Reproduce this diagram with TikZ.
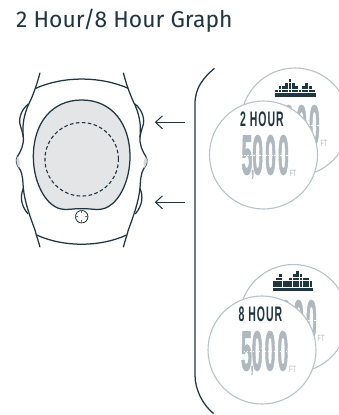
\documentclass[tikz,border=0pt]{standalone}
\usepackage{fontspec}
\setmainfont{Fira Sans}
\newfontfamily\lcdfont{Liberation Sans}
\newfontfamily\lcdspaced[LetterSpace=9]{Liberation Sans}
\newfontfamily\lcdwide[LetterSpace=11,BoldFeatures={FakeBold=2}]{Liberation Sans}
\definecolor{ink}{HTML}{1F3540}
\definecolor{ringc}{HTML}{B9C3C7}
\definecolor{digitc}{HTML}{AEB8BE}
\definecolor{facec}{HTML}{E3E5E6}
\tikzset{
  wline/.style={draw=ink,line width=1.25pt},
  ring/.style={circle,draw=ringc,fill=white,line width=1.1pt,minimum size=108pt,inner sep=0pt},
  lcdtext/.style={inner sep=0pt,anchor=north east,text=digitc},
  hourtext/.style={inner sep=0pt,anchor=north west,text=ink},
  arrowline/.style={draw=ink,line width=1pt},
}
\newcommand{\bigdigits}[3]{% name, right x, top y
  \node[lcdtext] (#1) at (#2,#3) {\scalebox{0.345}[1.0]{\fontsize{56}{56}\lcdwide\bfseries 5\rlap{\kern-3pt\fontsize{28}{28}\selectfont ,}000}};
  \draw[white,line width=0.8pt,dash pattern=on 1.2pt off 1.8pt] ([yshift=-20pt]#1.north west) -- ([yshift=-20pt]#1.north east);
  \node[inner sep=0pt,anchor=south west,text=digitc] (#1ft) at ([xshift=0.5pt,yshift=2.5pt]#1.south east) {\scalebox{0.6}[1]{\fontsize{9}{9}\lcdfont FT}};
}
\newcommand{\skyline}[3]{% left x, base top y, heights
  \fill[ink] (#1,#2) rectangle ++(40.5,3.4);
  \foreach \h [count=\i from 0] in {#3} {
    \foreach \r in {1,...,\h} {
      \fill[ink] ({#1+0.2+\i*3.35},{#2-0.8-(\r-1)*3.4}) rectangle ++(2.8,-2.8);
    }
  }
}
\begin{document}
\begin{tikzpicture}[x=1pt,y=-1pt]
\useasboundingbox (0,0) rectangle (339,415);
\fill[white] (0,0) rectangle (339,415);
\node[inner sep=0pt,anchor=base west,text=ink] (title) at (16,27.3) {\fontsize{22.9}{24}\selectfont 2 Hour/8 Hour Graph};

% watch
\begin{scope}[shift={(0,60)},x=0.3333pt,y=-0.3333pt]
  \foreach \m/\o in {1/0,-1/490} {
    \begin{scope}[shift={(\o,0)},x=\m*0.3333pt]
      \draw[wline] (120,38) .. controls (112,70) and (100,105) .. (85,135)
        .. controls (72,165) and (66,195) .. (70,230)
        .. controls (72,255) and (62,275) .. (52,290)
        .. controls (46,302) and (50,315) .. (58,325)
        .. controls (70,345) and (68,365) .. (70,385)
        .. controls (74,425) and (90,470) .. (105,510)
        .. controls (110,530) and (116,545) .. (120,562);
      \draw[wline] (85,132) .. controls (62,150) and (54,180) .. (62,200)
        .. controls (66,212) and (68,220) .. (70,232);
      \draw[wline] (70,385) .. controls (60,410) and (62,435) .. (84,462);
    \end{scope}
  }
  \draw[wline] (107,85) .. controls (190,48) and (300,48) .. (385,85);
  \draw[wline] (110,525) .. controls (190,562) and (300,562) .. (380,525);
  \fill[facec!60!ringc] (52,290) .. controls (46,302) and (50,315) .. (58,325) .. controls (60,310) and (60,300) .. (52,290);
  \fill[facec!60!ringc] (438,290) .. controls (444,302) and (440,315) .. (432,325) .. controls (430,310) and (430,300) .. (438,290);
  \draw[wline,fill=facec] (245,120) .. controls (335,120) and (390,190) .. (390,290)
    .. controls (390,360) and (360,420) .. (325,440)
    .. controls (300,455) and (275,445) .. (245,446)
    .. controls (215,445) and (190,455) .. (165,440)
    .. controls (130,420) and (100,360) .. (100,290)
    .. controls (100,190) and (155,120) .. (245,120) -- cycle;
\end{scope}
\node[circle,draw=ink,dashed,dash pattern=on 3.6pt off 2.4pt,line width=1.1pt,minimum size=73.5pt,inner sep=0pt] (dial) at (81.7,159.3) {};
\node[circle,draw=ink,line width=0.8pt,minimum size=12.5pt,inner sep=0pt,fill=white] (crown) at (81.7,216.7) {};
\draw[ink!70,line width=0.9pt] (crown.north) -- ++(0,3) (crown.south) -- ++(0,-3) (crown.west) -- ++(3,0) (crown.east) -- ++(-3,0);

% arrows
\coordinate (a1t) at (185,122.3);
\coordinate (a1h) at (155.5,122.3);
\coordinate (a2t) at (185,202.3);
\coordinate (a2h) at (155.5,202.3);
\foreach \t/\h in {a1t/a1h,a2t/a2h} {
  \draw[arrowline] (\t) -- (\h);
  \draw[arrowline] ([shift={(7,-6.5)}]\h) -- (\h) -- ([shift={(7,6.5)}]\h);
}

% bracket
\coordinate (bt) at (214.5,68.3);
\coordinate (bb) at (213.5,413.5);
\draw[wline] (bt) .. controls (203,78) and (195,88) .. (195,104) -- (195,375) .. controls (195,390) and (203,405) .. (bb);

% upper displays
\node[ring] (r1b) at (295,122) {};
\bigdigits{d1b}{320}{105}
\skyline{275}{93.2}{1,2,2,3,4,3,2,1,2,3,2,1}
\node[ring] (r1f) at (263.5,155) {};
\node[hourtext] (h1) at (240,111.5) {\scalebox{0.5}[1]{\fontsize{21}{21}\lcdspaced\bfseries 2 HOUR}};
\bigdigits{d1f}{289}{135}

% lower displays
\node[ring] (r2b) at (293.5,318.5) {};
\bigdigits{d2b}{317}{300}
\skyline{272.5}{288}{2,3,4,2,2,3,4,5,4,3,3,2}
\node[ring] (r2f) at (262,350) {};
\node[hourtext] (h2) at (238.5,307) {\scalebox{0.5}[1]{\fontsize{21}{21}\lcdspaced\bfseries 8 HOUR}};
\bigdigits{d2f}{288.5}{331}
\end{tikzpicture}
\end{document}
